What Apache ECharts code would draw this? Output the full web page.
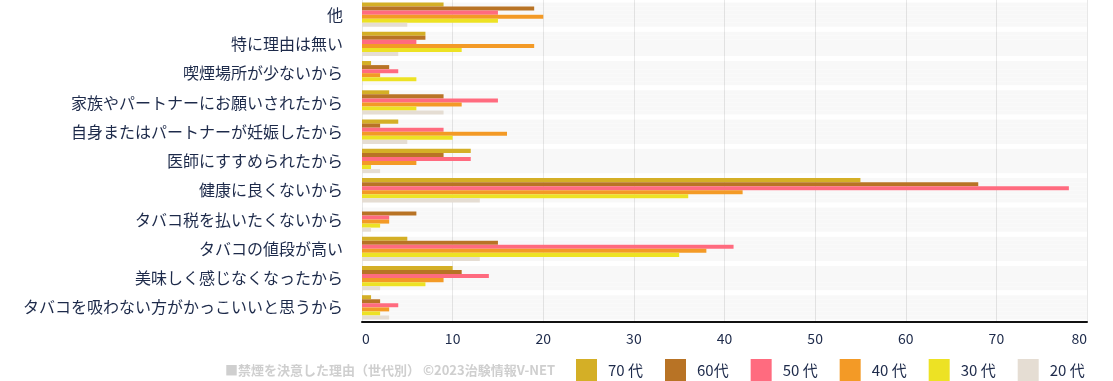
<!DOCTYPE html>
<html>
<head>
<meta charset="utf-8">
<script src="https://cdn.jsdelivr.net/npm/echarts@6/dist/echarts.min.js"></script>
<style>html,body{margin:0;padding:0;background:#fff}#c{width:1113px;height:381px}</style>
</head>
<body>
<div id="c"></div>
<script>
const categories = ['他','特に理由は無い','喫煙場所が少ないから','家族やパートナーにお願いされたから','自身またはパートナーが妊娠したから','医師にすすめられたから','健康に良くないから','タバコ税を払いたくないから','タバコの値段が高い','美味しく感じなくなったから','タバコを吸わない方がかっこいいと思うから'];
const seriesNames = ['70 代','60代','50 代','40 代','30 代','20 代'];
const v70 = [9,7,1,3,4,12,55,0,5,10,1];
const v60 = [19,7,3,9,2,9,68,6,15,11,2];
const v50 = [15,6,4,15,9,12,78,3,41,14,4];
const v40 = [20,19,2,11,16,6,42,3,38,9,3];
const v30 = [15,11,6,6,10,1,36,2,35,7,2];
const v20 = [5,4,0,9,5,2,13,1,13,2,3];
const xTicks = [0,10,20,30,40,50,60,70,80];
const colors = ['#d4af26','#b87325','#ff6b7f','#f39a26','#ede224','#e5ddd3'];
const values = [v70,v60,v50,v40,v30,v20];

const chart = echarts.init(document.getElementById('c'));
chart.setOption({
  animation:false,
  color: colors,
  textStyle:{fontFamily:'"Noto Sans CJK JP","Noto Sans",sans-serif'},
  grid:{left:362,right:26,top:0,bottom:59,containLabel:false},
  xAxis:{type:'value',min:xTicks[0],max:xTicks[xTicks.length-1],interval:10,
    axisLine:{show:true,lineStyle:{color:'#111',width:2}},
    axisTick:{show:false},
    axisLabel:{color:'#1d2a4a',fontSize:14,margin:10,alignMinLabel:'left',alignMaxLabel:'right'},
    splitLine:{show:true,lineStyle:{color:'#e8e8e8',width:1}}},
  yAxis:{type:'category',data:categories,inverse:true,
    axisLine:{show:false},axisTick:{show:false},
    axisLabel:{color:'#1d2a4a',fontSize:16,margin:19}},
  legend:{left:571,top:354,itemWidth:21,itemHeight:22,itemGap:22,icon:'rect',
    textStyle:{color:'#1d2a4a',fontSize:15,width:40,padding:[0,0,0,6]},
    data:seriesNames},
  graphic:[{type:'text',left:225,top:364,style:{text:'■禁煙を決意した理由（世代別） ©2023治験情報V-NET',fill:'#cfcfcf',fontSize:13,fontWeight:'bold',fontFamily:'"Noto Sans CJK JP",sans-serif'}}],
  series: seriesNames.map((n,i)=>({
    name:n,type:'bar',data:values[i],barGap:'0%',barCategoryGap:'17%',
    showBackground:true,backgroundStyle:{color:'rgba(0,0,0,0.028)'},
    itemStyle:{color:colors[i]}
  }))
});
</script>
</body>
</html>
